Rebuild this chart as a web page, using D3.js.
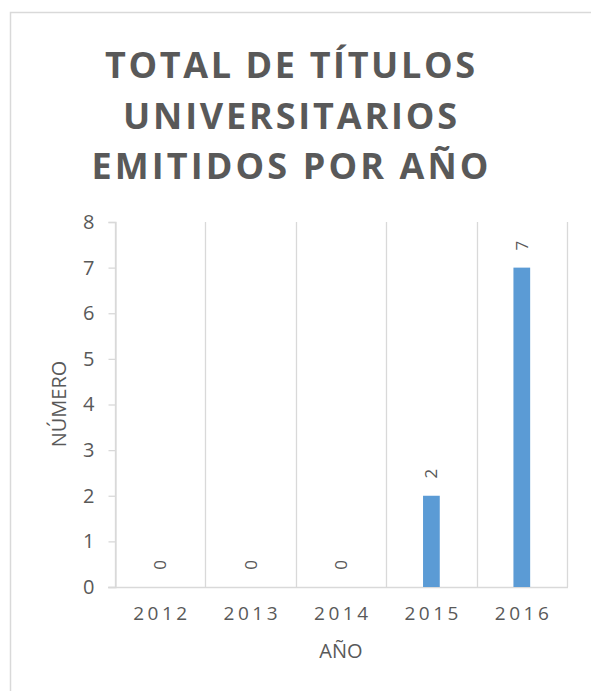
<!DOCTYPE html>
<html>
<head>
<meta charset="utf-8">
<script src="https://cdn.jsdelivr.net/npm/d3@7"></script>
<style>
  html, body { margin: 0; padding: 0; background: #fff; }
  svg { display: block; }
  text { font-family: "Open Sans", "Liberation Sans", sans-serif; }
</style>
</head>
<body>
<svg id="chart" width="591" height="691"></svg>
<script>
const categories = ["2012", "2013", "2014", "2015", "2016"];
const values = [0, 0, 0, 2, 7];
const yTicks = [0, 1, 2, 3, 4, 5, 6, 7, 8];
const titleLines = ["TOTAL DE TÍTULOS", "UNIVERSITARIOS", "EMITIDOS POR AÑO"];
const xTitle = "AÑO";
const yTitle = "NÚMERO";

const svg = d3.select("#chart");
const W = 591, H = 691;
const plot = { left: 115, right: 567, top: 222, bottom: 587 };
const gridColor = "#d9d9d9";
const textColor = "#595959";

// chart border (left and top visible)
svg.append("path")
  .attr("d", `M10.5,${H} L10.5,12.5 L${W},12.5`)
  .attr("fill", "none").attr("stroke", gridColor).attr("stroke-width", 1.5);

// title
const titleWidths = [370, 334, 397];
svg.append("g").selectAll("text").data(titleLines).join("text")
  .attr("x", 290).attr("y", (d, i) => 78 + i * 50.5)
  .attr("text-anchor", "middle")
  .attr("font-size", 36).attr("font-weight", 700)
  .attr("fill", textColor)
  .attr("textLength", (d, i) => titleWidths[i])
  .attr("lengthAdjust", "spacing")
  .text(d => d);

const x = d3.scaleBand().domain(categories).range([plot.left, plot.right]).paddingInner(0).paddingOuter(0);
const y = d3.scaleLinear().domain([0, 8]).range([plot.bottom, plot.top]);

// vertical gridlines at category boundaries
const bounds = categories.map(c => x(c)).concat([x(categories[categories.length - 1]) + x.bandwidth()]);
svg.append("g").selectAll("line").data(bounds).join("line")
  .attr("x1", d => Math.round(d) + 0.5).attr("x2", d => Math.round(d) + 0.5)
  .attr("y1", plot.top).attr("y2", plot.bottom)
  .attr("stroke", gridColor).attr("stroke-width", 1.3);

// y axis with outward ticks
const yAxis = d3.axisLeft(y).tickValues(yTicks).tickSize(7).tickPadding(14).tickFormat(d3.format("d"));
const gy = svg.append("g").attr("transform", `translate(${plot.left + 0.5},0)`).call(yAxis);
gy.select(".domain").attr("stroke", gridColor).attr("stroke-width", 1.3);
gy.selectAll(".tick line").attr("stroke", gridColor).attr("stroke-width", 1.3);
gy.selectAll(".tick text").attr("font-size", 20).attr("fill", textColor)
  .attr("font-family", "'Open Sans', sans-serif");

// x axis
const xAxis = d3.axisBottom(x).tickSize(0).tickPadding(19);
const gx = svg.append("g").attr("transform", `translate(0,${plot.bottom + 0.5})`).call(xAxis);
gx.select(".domain").remove();
gx.append("line").attr("x1", plot.left - 7).attr("x2", plot.right + 1).attr("y1", 0).attr("y2", 0)
  .attr("stroke", gridColor).attr("stroke-width", 1.5);
gx.selectAll(".tick text").attr("font-size", 19).attr("fill", textColor)
  .attr("font-family", "'Open Sans', sans-serif")
  .attr("textLength", 54).attr("lengthAdjust", "spacing");

// bars
const barW = x.bandwidth() * 0.185;
svg.append("g").selectAll("rect").data(values).join("rect")
  .attr("x", (d, i) => x(categories[i]) + x.bandwidth() / 2 - barW / 2)
  .attr("y", d => y(d))
  .attr("width", barW)
  .attr("height", d => y(0) - y(d))
  .attr("fill", "#5b9bd5");

// rotated data labels
svg.append("g").selectAll("text").data(values).join("text")
  .attr("transform", (d, i) => `translate(${x(categories[i]) + x.bandwidth() / 2 + 6},${y(d) - 22}) rotate(-90)`)
  .attr("text-anchor", "middle")
  .attr("font-size", 17).attr("fill", textColor)
  .text(d => d);

// axis titles
svg.append("text").attr("x", 341).attr("y", 658).attr("text-anchor", "middle")
  .attr("font-size", 20).attr("fill", textColor).text(xTitle);
svg.append("text").attr("transform", "translate(66,404) rotate(-90)").attr("text-anchor", "middle")
  .attr("font-size", 20).attr("fill", textColor).text(yTitle);
</script>
</body>
</html>
